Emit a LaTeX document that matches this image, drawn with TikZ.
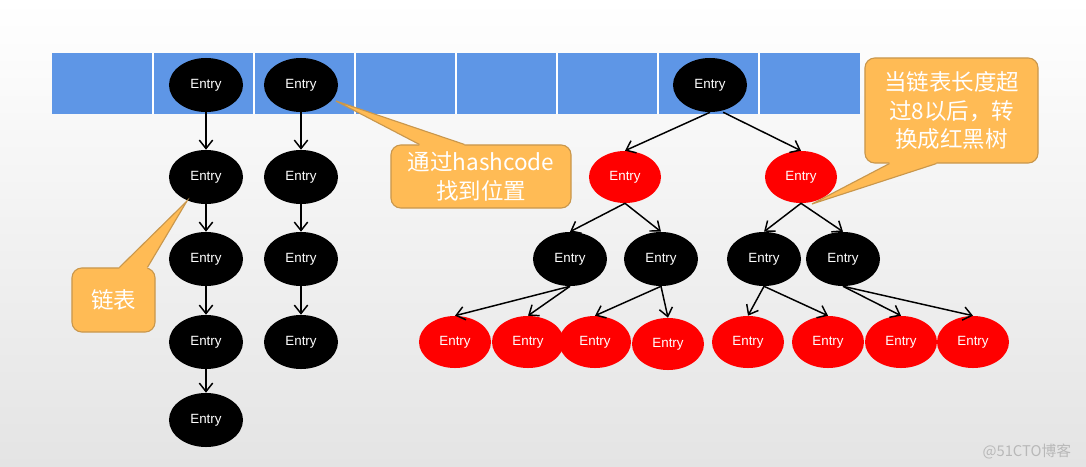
\documentclass[tikz,border=0pt]{standalone}
\usepackage{fontspec}
\setmainfont{Liberation Sans}
\newfontfamily\cjk{Noto Sans CJK SC}
\usetikzlibrary{arrows.meta, calc, shapes.geometric}
\definecolor{barblue}{HTML}{5E96E6}
\definecolor{noteorange}{HTML}{FFBB55}
\definecolor{noteedge}{HTML}{C9974C}
\definecolor{bggray}{HTML}{E4E4E4}
\definecolor{markgray}{HTML}{B8B8B8}

\begin{document}
\begin{tikzpicture}[
        x=0.025cm, y=-0.025cm,
        every node/.style={font=\fontsize{9.5}{11}\selectfont},
        blackentry/.style={ellipse, fill=black, text=white, inner sep=0pt,
                           minimum width=1.85cm, minimum height=1.35cm},
        redentry/.style={ellipse, fill=red, text=white, inner sep=0pt,
                         minimum width=1.8cm, minimum height=1.3cm},
        link/.style={draw, line width=1.05pt, -{Straight Barb[length=6pt, width=9.5pt]}},
        note/.style={rounded corners=7pt, fill=noteorange, draw=noteedge, line width=0.8pt,
                     text=white, align=center, inner sep=0pt,
                     font=\cjk\fontsize{16}{20}\selectfont},
        noteline/.style={draw=noteedge, line width=0.8pt},
      ]
      % background and bucket array
      \shade[top color=white, bottom color=bggray] (0,0) rectangle (1086,467);
      \fill[barblue] (52,53) rectangle (860,114);
      \foreach \i in {1,...,7}
        \draw[white, line width=1pt] ({52+101*\i},53) -- ({52+101*\i},114);

      % first linked list
      \node[blackentry] (a1) at (206,85) {Entry};
      \node[blackentry] (a2) at (206,177) {Entry};
      \node[blackentry] (a3) at (206,259) {Entry};
      \node[blackentry] (a4) at (206,342) {Entry};
      \node[blackentry] (a5) at (206,420) {Entry};
      % second linked list
      \node[blackentry] (b1) at (301,85) {Entry};
      \node[blackentry] (b2) at (301,177) {Entry};
      \node[blackentry] (b3) at (301,259) {Entry};
      \node[blackentry] (b4) at (301,342) {Entry};

      \draw[link] (a1) -- (a2);
      \draw[link] (a2) -- (a3);
      \draw[link] (a3) -- (a4);
      \draw[link] (a4) -- (a5);
      \draw[link] (b1) -- (b2);
      \draw[link] (b2) -- (b3);
      \draw[link] (b3) -- (b4);

      % red-black tree
      \node[blackentry] (root) at (710,85) {Entry};
      \node[redentry] (tl) at (625,177) {Entry};
      \node[redentry] (tr) at (801,177) {Entry};
      \node[blackentry] (tla) at (570,259) {Entry};
      \node[blackentry] (tlb) at (661,259) {Entry};
      \node[blackentry] (tra) at (764,259) {Entry};
      \node[blackentry] (trb) at (843,259) {Entry};
      \node[redentry] (leaf1) at (455,342) {Entry};
      \node[redentry] (leaf2) at (528,342) {Entry};
      \node[redentry] (leaf3) at (595,342) {Entry};
      \node[redentry] (leaf4) at (668,344) {Entry};
      \node[redentry] (leaf5) at (748,342) {Entry};
      \node[redentry] (leaf6) at (828,342) {Entry};
      \node[redentry] (leaf7) at (901,342) {Entry};
      \node[redentry] (leaf8) at (973,342) {Entry};

      \draw[link] (root.south) -- (tl.north);
      \draw[link] ([xshift=0.33cm]root.south) -- (tr.north);
      \draw[link] (tl.south) -- (tla.north);
      \draw[link] (tl.south) -- (tlb.north);
      \draw[link] (tr.south) -- (tra.north);
      \draw[link] (tr.south) -- (trb.north);
      \draw[link] (tla.south) -- (leaf1.north);
      \draw[link] (tla.south) -- (leaf2.north);
      \draw[link] (tlb.south) -- (leaf3.north);
      \draw[link] (tlb.south) -- (leaf4.north);
      \draw[link] (tra.south) -- (leaf5.north);
      \draw[link] (tra.south) -- (leaf6.north);
      \draw[link] (trb.south) -- (leaf7.north);
      \draw[link] (trb.south) -- (leaf8.north);

      % callouts
      \node[note, minimum width=2.075cm, minimum height=1.6cm] (listnote) at (113.5,300) {链表};
      \coordinate (listtip) at (187,201);
      \fill[noteorange] ($(listnote.north west)+(48,1.5)$) -- ($(listnote.north west)+(48,0)$)
        -- (listtip) -- ($(listnote.north west)+(76,0)$) -- ($(listnote.north west)+(76,1.5)$) -- cycle;
      \draw[noteline] ($(listnote.north west)+(48,0)$) -- (listtip) -- ($(listnote.north west)+(76,0)$);

      \node[note, minimum width=4.5cm, minimum height=1.575cm] (hashnote) at (481,176.5)
        {通过hashcode\\找到位置};
      \coordinate (hashtip) at (336,101);
      \fill[noteorange] ($(hashnote.north west)+(29,1.5)$) -- ($(hashnote.north west)+(29,0)$)
        -- (hashtip) -- ($(hashnote.north west)+(74,0)$) -- ($(hashnote.north west)+(74,1.5)$) -- cycle;
      \draw[noteline] ($(hashnote.north west)+(29,0)$) -- (hashtip) -- ($(hashnote.north west)+(74,0)$);

      \node[note, minimum width=4.325cm, minimum height=2.625cm] (treenote) at (951.5,110.5)
        {当链表长度超\\过8以后，转\\换成红黑树};
      \coordinate (treetip) at (812,204);
      \fill[noteorange] ($(treenote.south west)+(25,-1.5)$) -- ($(treenote.south west)+(25,0)$)
        -- (treetip) -- ($(treenote.south west)+(72,0)$) -- ($(treenote.south west)+(72,-1.5)$) -- cycle;
      \draw[noteline] ($(treenote.south west)+(25,0)$) -- (treetip) -- ($(treenote.south west)+(72,0)$);

      \node[text=markgray, anchor=east, font=\cjk\fontsize{10.5}{12}\selectfont] (mark) at (1076,452) {@51CTO博客};
    \end{tikzpicture}
\end{document}
